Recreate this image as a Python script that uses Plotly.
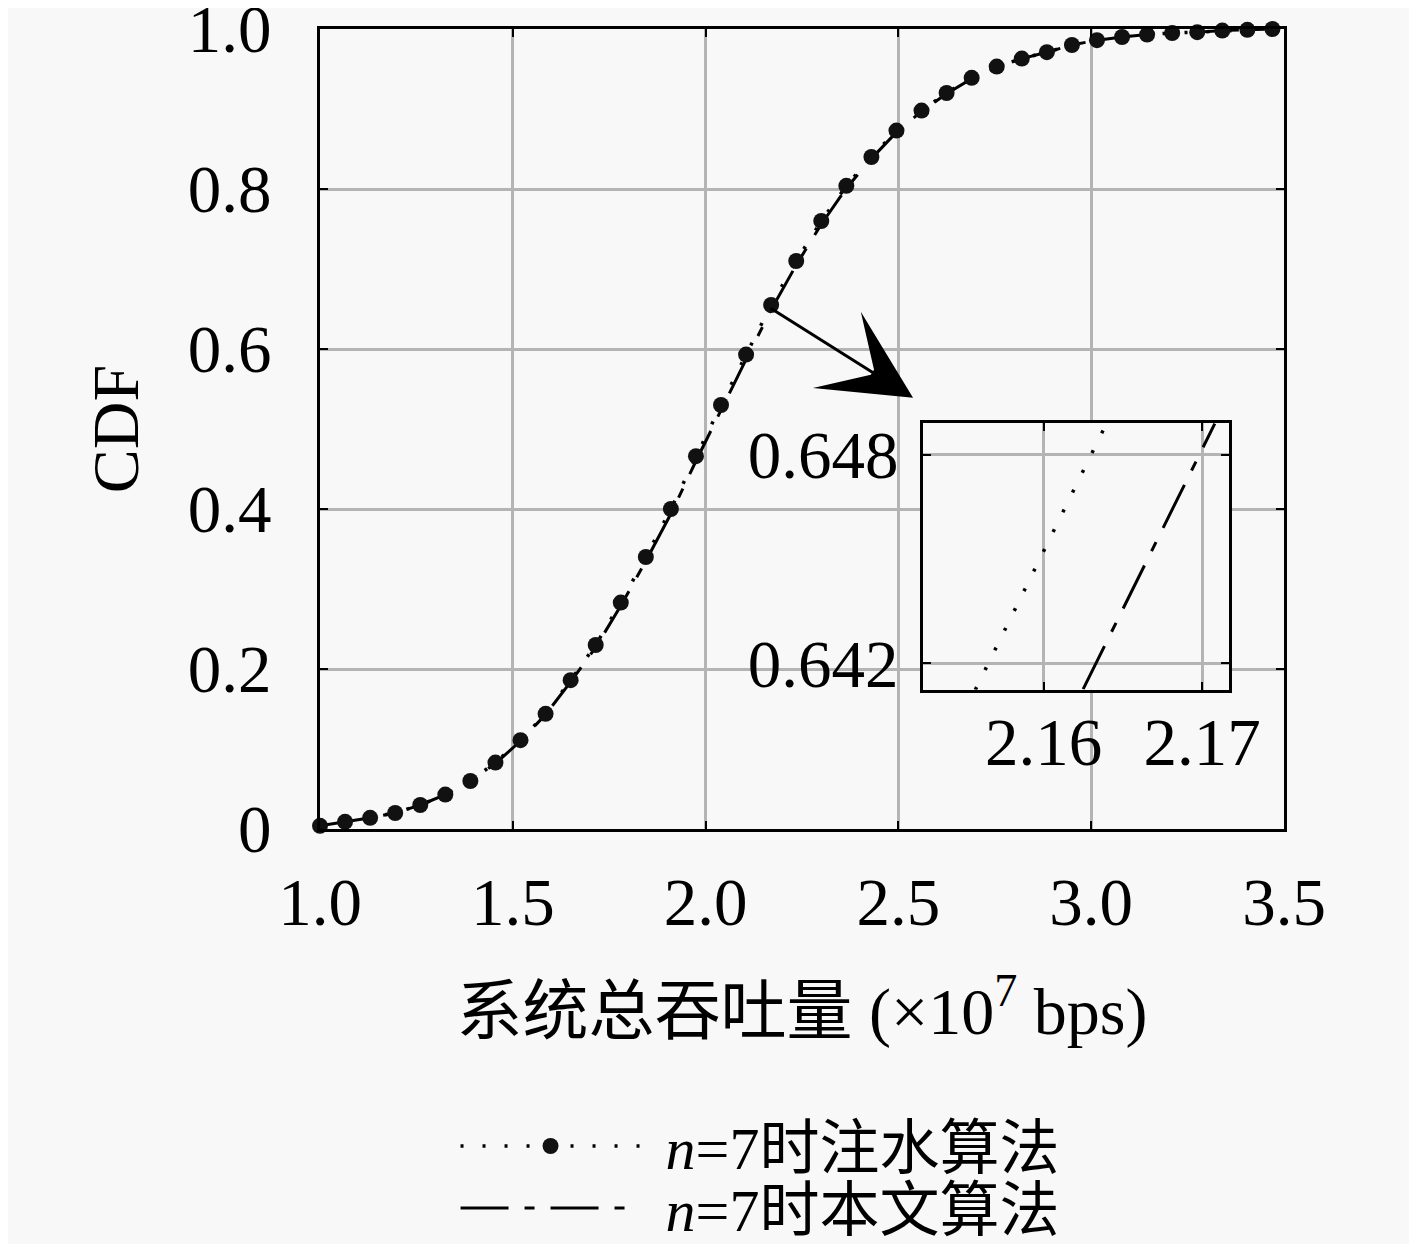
import plotly.graph_objects as go

# throughput (x10^7 bps) at the marker positions
x_vals = [1.000, 1.065, 1.130, 1.195, 1.260, 1.325, 1.390, 1.455, 1.520, 1.585,
          1.650, 1.715, 1.780, 1.845, 1.910, 1.975, 2.040, 2.105, 2.170, 2.235,
          2.300, 2.365, 2.430, 2.495, 2.560, 2.625, 2.690, 2.755, 2.820, 2.885,
          2.950, 3.015, 3.080, 3.145, 3.210, 3.275, 3.340, 3.405, 3.470]

# CDF, water-filling algorithm (n=7)
cdf_waterfill = [0.004, 0.009, 0.014, 0.020, 0.030, 0.043, 0.060, 0.083, 0.111, 0.144,
                 0.186, 0.230, 0.283, 0.340, 0.400, 0.466, 0.530, 0.593, 0.655, 0.710,
                 0.760, 0.804, 0.840, 0.873, 0.898, 0.920, 0.939, 0.953, 0.963, 0.971,
                 0.980, 0.986, 0.990, 0.993, 0.995, 0.996, 0.998, 0.999, 1.000]

# CDF, proposed algorithm (n=7) - almost identical at this scale
cdf_proposed = [0.004, 0.009, 0.014, 0.020, 0.030, 0.043, 0.060, 0.082, 0.110, 0.143,
                0.184, 0.227, 0.279, 0.335, 0.394, 0.460, 0.524, 0.587, 0.649, 0.705,
                0.756, 0.801, 0.838, 0.871, 0.897, 0.919, 0.938, 0.952, 0.963, 0.971,
                0.980, 0.986, 0.990, 0.993, 0.995, 0.996, 0.998, 0.999, 1.000]

# zoomed segments shown in the inset
inset_x_waterfill = [2.1557, 2.1640]
inset_y_waterfill = [0.64123, 0.64893]
inset_x_proposed = [2.1625, 2.1708]
inset_y_proposed = [0.64125, 0.64890]

x_ticks = [1.0, 1.5, 2.0, 2.5, 3.0, 3.5]
x_ticktext = ['1.0', '1.5', '2.0', '2.5', '3.0', '3.5']
y_ticks = [0, 0.2, 0.4, 0.6, 0.8, 1.0]
y_ticktext = ['0', '0.2', '0.4', '0.6', '0.8', '1.0']
inset_x_ticks = [2.16, 2.17]
inset_x_ticktext = ['2.16', '2.17']
inset_y_ticks = [0.642, 0.648]
inset_y_ticktext = ['0.642', '0.648']

inset_x_range = [2.1524, 2.1717]
inset_y_range = [0.64123, 0.64893]

FONT = 'Liberation Serif, Noto Sans CJK SC, serif'
BG = '#f8f8f8'
GRID = '#b4b4b4'
DOT = '3px,19px'
DASHDOT = '48px,16px,10px,16px'
PAD = '\u00a0\u200a'  # small gap between legend sample and label

fig = go.Figure()

fig.add_trace(go.Scatter(
    x=x_vals, y=cdf_proposed,
    mode='lines',
    name=PAD + '<i>n</i>=7时本文算法',
    legend='legend2',
    line=dict(color='black', width=3, dash=DASHDOT),
    cliponaxis=False
))

fig.add_trace(go.Scatter(
    x=x_vals, y=cdf_waterfill,
    mode='lines+markers',
    name=PAD + '<i>n</i>=7时注水算法',
    legend='legend',
    line=dict(color='black', width=3.5, dash=DOT),
    marker=dict(color='#111111', size=16),
    cliponaxis=False
))

# inset
fig.add_trace(go.Scatter(
    x=inset_x_waterfill, y=inset_y_waterfill,
    mode='lines', showlegend=False,
    line=dict(color='black', width=3.5, dash=DOT),
    xaxis='x2', yaxis='y2'
))
fig.add_trace(go.Scatter(
    x=inset_x_proposed, y=inset_y_proposed,
    mode='lines', showlegend=False,
    line=dict(color='black', width=3, dash=DASHDOT),
    xaxis='x2', yaxis='y2'
))

axis_common = dict(
    showgrid=True, gridcolor=GRID, gridwidth=3,
    showline=True, linecolor='black', linewidth=3, mirror='allticks',
    ticks='inside', ticklen=8, tickwidth=2, tickcolor='black',
    zeroline=False, ticklabeloverflow='allow', automargin=False,
    tickfont=dict(family=FONT, size=67, color='black'),
)

legend_common = dict(
    xanchor='left', yanchor='middle',
    bgcolor='rgba(0,0,0,0)',
    font=dict(family=FONT, size=60, color='black'),
    itemwidth=180,
)

# page body has an 8px margin, so the figure is 16px smaller than the window
fig.update_layout(
    width=1401, height=1236,
    margin=dict(l=312, r=125, t=21, b=415, autoexpand=False),
    paper_bgcolor=BG, plot_bgcolor=BG,
    font=dict(family=FONT, color='black'),
    xaxis=dict(
        axis_common, range=[1.0, 3.5], tickvals=x_ticks, ticktext=x_ticktext,
        ticklabelstandoff=13,
        title=dict(text='系统总吞吐量 (×10<sup>7</sup> bps)',
                   font=dict(family=FONT, size=66), standoff=50),
    ),
    yaxis=dict(
        axis_common, range=[0, 1.0], tickvals=y_ticks, ticktext=y_ticktext,
        ticklabelstandoff=32,
        title=dict(text='CDF', font=dict(family=FONT, size=66), standoff=28),
    ),
    xaxis2=dict(
        axis_common, domain=[0.6255, 0.943], anchor='y2',
        range=inset_x_range, tickvals=inset_x_ticks, ticktext=inset_x_ticktext,
        ticklabelstandoff=-8,
    ),
    yaxis2=dict(
        axis_common, domain=[0.174, 0.508], anchor='x2',
        range=inset_y_range, tickvals=inset_y_ticks, ticktext=inset_y_ticktext,
        ticklabelstandoff=8,
    ),
    legend=dict(legend_common, x=0.1406, y=-0.39625),
    legend2=dict(legend_common, x=0.1406, y=-0.47375),
    showlegend=True,
)

# opaque background for the inset so the main grid does not show through
fig.add_shape(
    type='rect', xref='x2', yref='y2',
    x0=inset_x_range[0], x1=inset_x_range[1],
    y0=inset_y_range[0], y1=inset_y_range[1],
    fillcolor=BG, line=dict(width=0), layer='below'
)

# arrow pointing from the curve to the inset
fig.add_annotation(
    x=2.538, y=0.539, ax=2.165, ay=0.652,
    xref='x', yref='y', axref='x', ayref='y',
    text='', showarrow=True,
    arrowhead=3, arrowsize=5, arrowwidth=3, arrowcolor='black',
    standoff=0, startstandoff=0
)

fig.write_html('out.html')
